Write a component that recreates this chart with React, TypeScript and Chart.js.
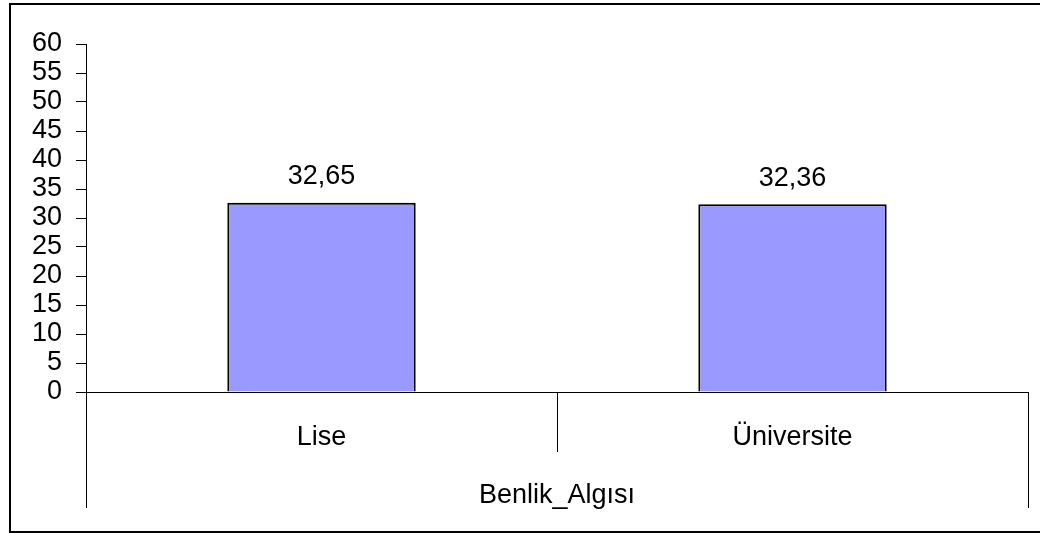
import React, { useEffect, useRef } from "react";
import { Chart, registerables } from "chart.js";

Chart.register(...registerables);

const categories = ["Lise", "Üniversite"];
const values = [32.65, 32.36];
const valueLabels = ["32,65", "32,36"];
const groupLabel = "Benlik_Algısı";
const yMin = 0;
const yMax = 60;
const yStep = 5;

const FONT_FAMILY = '"Liberation Sans", Arial, sans-serif';
const FONT_SIZE = 27;

const overlayPlugin = {
  id: "excelOverlay",
  afterDraw(chart: any) {
    const ctx = chart.ctx;
    const area = chart.chartArea;
    const xs = chart.scales.x;
    ctx.save();

    // baseline
    ctx.strokeStyle = "#000";
    ctx.lineWidth = 1;
    ctx.beginPath();
    ctx.moveTo(area.left, Math.round(area.bottom) + 0.5);
    ctx.lineTo(area.right, Math.round(area.bottom) + 0.5);
    ctx.stroke();

    // category separators
    const p0 = xs.getPixelForValue(0);
    const p1 = xs.getPixelForValue(1);
    ctx.beginPath();
    [area.left, area.right].forEach((x) => {
      ctx.moveTo(Math.round(x) + 0.5, area.bottom);
      ctx.lineTo(Math.round(x) + 0.5, 508);
    });
    const mid = Math.round((p0 + p1) / 2) + 0.5;
    ctx.moveTo(mid, area.bottom);
    ctx.lineTo(mid, 452);
    ctx.stroke();

    ctx.fillStyle = "#000";
    ctx.font = `${FONT_SIZE}px ${FONT_FAMILY}`;
    ctx.textAlign = "center";
    ctx.textBaseline = "middle";

    // value labels
    const meta = chart.getDatasetMeta(0);
    meta.data.forEach((bar: any, i: number) => {
      ctx.fillText(valueLabels[i], bar.x, bar.y - 26);
    });

    // category labels
    categories.forEach((c, i) => {
      ctx.fillText(c, xs.getPixelForValue(i), 438);
    });

    // group label
    ctx.fillText(groupLabel, (area.left + area.right) / 2, 496);

    // outer border
    ctx.lineWidth = 2;
    ctx.strokeRect(10, 4, 1031, 528);
    ctx.restore();
  },
};

export default function App() {
  const ref = useRef<HTMLCanvasElement>(null);
  useEffect(() => {
    const chart = new Chart(ref.current as HTMLCanvasElement, {
      type: "bar",
      data: {
        labels: categories,
        datasets: [
          {
            data: values,
            backgroundColor: "#9999FF",
            borderColor: "#000",
            borderWidth: 2,
            borderSkipped: "bottom",
            barPercentage: 0.4,
            categoryPercentage: 1,
          },
        ],
      },
      options: {
        responsive: false,
        animation: false,
        devicePixelRatio: 1,
        layout: { padding: { left: 0, right: 12, top: 44, bottom: 141 } },
        plugins: {
          legend: { display: false },
          tooltip: { enabled: false },
        },
        scales: {
          x: { display: false },
          y: {
            min: yMin,
            max: yMax,
            afterFit: (s: any) => {
              s.width = 86;
            },
            ticks: {
              stepSize: yStep,
              autoSkip: false,
              color: "#000",
              padding: 14,
              font: { family: FONT_FAMILY, size: FONT_SIZE },
            },
            grid: {
              drawOnChartArea: false,
              drawTicks: true,
              tickLength: 10,
              color: "#000",
              tickColor: "#000",
            },
            border: { display: true, color: "#000" },
          },
        },
      },
      plugins: [overlayPlugin],
    });
    return () => chart.destroy();
  }, []);
  return (
    <div style={{ position: "absolute", left: 0, top: 0, width: 1040, height: 533, background: "#fff" }}>
      <canvas ref={ref} width={1040} height={533} />
    </div>
  );
}
